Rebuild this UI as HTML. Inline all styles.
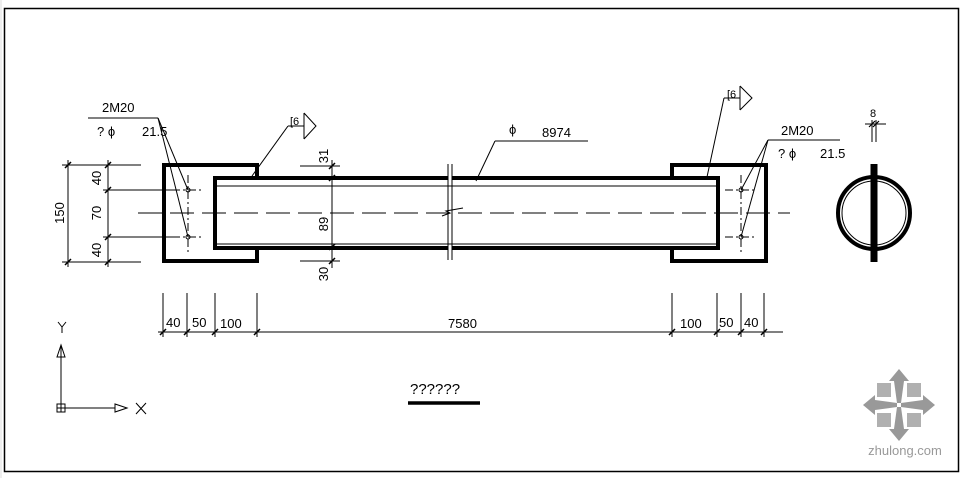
<!DOCTYPE html>
<html><head><meta charset="utf-8"><style>
html,body{margin:0;padding:0;background:#fff;}
svg{display:block;}
text{font-family:"Liberation Sans",sans-serif;fill:#000;}
</style></head><body>
<svg width="961" height="478" viewBox="0 0 961 478" xmlns="http://www.w3.org/2000/svg">
<rect width="961" height="478" fill="#fff"/>
<line x1="1" y1="0" x2="1" y2="478" stroke="#ddd" stroke-width="1"/>
<rect x="4.5" y="8.5" width="954" height="463" fill="none" stroke="#000" stroke-width="1.5"/>

<!-- watermark -->
<g transform="translate(899,405)" fill="#999">
<polygon points="0,-36 -10,-24 10,-24"/><polygon points="0,36 -10,24 10,24"/>
<polygon points="-36,0 -24,-10 -24,10"/><polygon points="36,0 24,-10 24,10"/>
<polygon points="-5,-24 5,-24 2,-2 -2,-2"/><polygon points="-5,24 5,24 2,2 -2,2"/>
<polygon points="-24,-5 -24,5 -2,2 -2,-2"/><polygon points="24,-5 24,5 2,2 2,-2"/>
<g fill="#b0b0b0"><rect x="-22" y="-22" width="14" height="14"/><rect x="8" y="-22" width="14" height="14"/><rect x="-22" y="8" width="14" height="14"/><rect x="8" y="8" width="14" height="14"/></g>
</g>
<text x="905" y="455" font-size="13" text-anchor="middle" style="fill:#999">zhulong.com</text>

<g stroke="#000" fill="none">
<!-- centerline -->
<line x1="138" y1="213" x2="790" y2="213" stroke-width="1" stroke-dasharray="24,8"/>
<!-- left plate -->
<path d="M257,178 V165 H164 V261 H257 V248" stroke-width="4"/>
<!-- right plate -->
<path d="M672,178 V165 H766 V261 H672 V248" stroke-width="4"/>
<!-- tube -->
<path d="M448,178 H215 V248 H448" stroke-width="4"/>
<path d="M452,178 H718 V248 H452" stroke-width="4"/>
<line x1="217" y1="186" x2="716" y2="186" stroke-width="1"/>
<line x1="217" y1="244" x2="716" y2="244" stroke-width="1"/>
<!-- break -->
<line x1="448" y1="164" x2="448" y2="260" stroke-width="1"/>
<line x1="452" y1="164" x2="452" y2="260" stroke-width="1"/>
<polyline points="442,216 450,213 446,211 463,208" stroke-width="1"/>
<!-- bolt holes -->
<g stroke-width="1">
<line x1="188" y1="175" x2="188" y2="255" stroke-dasharray="8,3,2,3"/>
<line x1="172" y1="190" x2="204" y2="190" stroke-dasharray="8,3,2,3"/>
<line x1="172" y1="237" x2="204" y2="237" stroke-dasharray="8,3,2,3"/>
<circle cx="188" cy="190" r="2"/><circle cx="188" cy="237" r="2"/>
<line x1="741" y1="175" x2="741" y2="255" stroke-dasharray="8,3,2,3"/>
<line x1="725" y1="190" x2="757" y2="190" stroke-dasharray="8,3,2,3"/>
<line x1="725" y1="237" x2="757" y2="237" stroke-dasharray="8,3,2,3"/>
<circle cx="741" cy="190" r="2"/><circle cx="741" cy="237" r="2"/>
</g>
<!-- leaders -->
<g stroke-width="1">
<line x1="88" y1="118" x2="158" y2="118"/>
<line x1="158" y1="118" x2="188" y2="190"/><line x1="158" y1="118" x2="188" y2="237"/>
<line x1="768" y1="140" x2="840" y2="140"/>
<line x1="768" y1="140" x2="741" y2="190"/><line x1="768" y1="140" x2="741" y2="237"/>
<line x1="252" y1="176" x2="288" y2="126"/><line x1="288" y1="126" x2="304" y2="126"/>
<line x1="304" y1="113" x2="304" y2="139"/><polyline points="304,113 316,126 304,139"/>
<line x1="707" y1="177" x2="724" y2="98"/><line x1="724" y1="98" x2="740" y2="98"/>
<line x1="740" y1="86" x2="740" y2="110"/><polyline points="740,86 752,98 740,110"/>
<line x1="476" y1="181" x2="495" y2="141"/><line x1="495" y1="141" x2="588" y2="141"/>
</g>
<!-- dims -->
<g stroke-width="1">
<line x1="68" y1="160" x2="68" y2="267"/>
<line x1="108" y1="160" x2="108" y2="267"/>
<line x1="62" y1="165" x2="141" y2="165"/>
<line x1="62" y1="262" x2="141" y2="262"/>
<line x1="103" y1="190" x2="175" y2="190"/>
<line x1="103" y1="237" x2="175" y2="237"/>
<line x1="332" y1="160" x2="332" y2="268"/>
<line x1="300" y1="166" x2="340" y2="166"/>
<line x1="300" y1="261" x2="340" y2="261"/>
<line x1="158" y1="332" x2="783" y2="332"/>
<line x1="163" y1="293" x2="163" y2="337"/><line x1="187" y1="293" x2="187" y2="337"/>
<line x1="215" y1="293" x2="215" y2="337"/><line x1="257" y1="293" x2="257" y2="337"/>
<line x1="672" y1="293" x2="672" y2="337"/><line x1="717" y1="293" x2="717" y2="337"/>
<line x1="741" y1="293" x2="741" y2="337"/><line x1="764" y1="293" x2="764" y2="337"/>
</g>
<g stroke-width="1.5">
<path d="M160,335 l6,-6 M184,335 l6,-6 M212,335 l6,-6 M254,335 l6,-6 M669,335 l6,-6 M714,335 l6,-6 M738,335 l6,-6 M761,335 l6,-6"/>
<path d="M65,168 l6,-6 M65,265 l6,-6 M105,168 l6,-6 M105,193 l6,-6 M105,240 l6,-6 M105,265 l6,-6 M329,169 l6,-6 M329,181 l6,-6 M329,250 l6,-6 M329,264 l6,-6"/>
</g>
<!-- section view -->
<circle cx="874" cy="213" r="36" stroke-width="4"/>
<circle cx="874" cy="213" r="32" stroke-width="1"/>
<line x1="874" y1="164" x2="874" y2="262" stroke-width="7"/>
<line x1="872" y1="120" x2="872" y2="142" stroke-width="1"/>
<line x1="876" y1="120" x2="876" y2="142" stroke-width="1"/>
<line x1="865" y1="124" x2="886" y2="124" stroke-width="1"/>
<path d="M869,127 l6,-6 M873,127 l6,-6" stroke-width="1.2"/>
<!-- UCS -->
<line x1="61" y1="345" x2="61" y2="408" stroke-width="1"/>
<polygon points="61,345 57,357 65,357" stroke-width="1"/>
<rect x="57" y="404" width="8" height="8" stroke-width="1"/>
<line x1="57" y1="408" x2="65" y2="408" stroke-width="1"/><line x1="61" y1="404" x2="61" y2="412" stroke-width="1"/>
<line x1="65" y1="408" x2="115" y2="408" stroke-width="1"/>
<polygon points="127,408 115,404 115,412" stroke-width="1"/>
<path d="M136,403 l10,11 M146,403 l-10,11" stroke-width="1"/>
<path d="M58,322 l4,5 l4,-5 M62,327 v6" stroke-width="1"/>
<line x1="408" y1="403" x2="480" y2="403" stroke-width="3.5"/>
</g>

<g font-size="13">
<text x="102" y="112">2M20</text>
<text x="97" y="136">? ϕ</text>
<text x="142" y="136">21.5</text>
<text x="781" y="135">2M20</text>
<text x="778" y="158">? ϕ</text>
<text x="820" y="158">21.5</text>
<text x="290" y="125" font-size="11">[6</text>
<text x="727" y="98" font-size="11">[6</text>
<text x="509" y="134">ϕ</text>
<text x="542" y="137">8974</text>
<text x="870" y="117" font-size="11">8</text>
<text x="166" y="327">40</text>
<text x="192" y="327">50</text>
<text x="220" y="328">100</text>
<text x="448" y="328">7580</text>
<text x="680" y="328">100</text>
<text x="719" y="327">50</text>
<text x="744" y="327">40</text>
<text x="410" y="394" font-size="15">??????</text>
<text transform="translate(64,213) rotate(-90)" text-anchor="middle">150</text>
<text transform="translate(101,178) rotate(-90)" text-anchor="middle">40</text>
<text transform="translate(101,213) rotate(-90)" text-anchor="middle">70</text>
<text transform="translate(101,250) rotate(-90)" text-anchor="middle">40</text>
<text transform="translate(328,156) rotate(-90)" text-anchor="middle">31</text>
<text transform="translate(328,224) rotate(-90)" text-anchor="middle">89</text>
<text transform="translate(328,274) rotate(-90)" text-anchor="middle">30</text>
</g>
</svg>
</body></html>
